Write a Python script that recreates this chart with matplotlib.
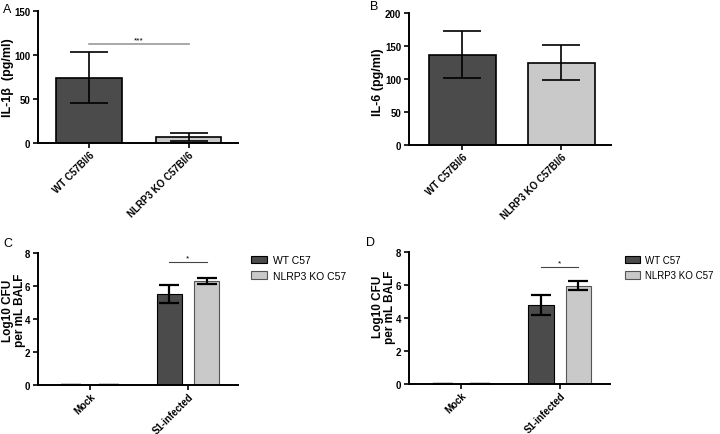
import numpy as np
import matplotlib.pyplot as plt
from matplotlib.patches import Patch

plt.rcParams['font.family'] = ['Liberation Sans', 'DejaVu Sans']

# panel A / B data
groups_ab = ['WT C57Bl/6', 'NLRP3 KO C57Bl/6']
il1b = [74, 7]
il1b_err = [29, 4.5]
il6 = [137, 125]
il6_err = [36, 27]

# panel C / D data
groups_cd = ['Mock', 'S1-infected']
series_cd = ['WT C57', 'NLRP3 KO C57']
c_wt = [0, 5.5]
c_wt_err = [0, 0.55]
c_ko = [0, 6.3]
c_ko_err = [0, 0.17]
d_wt = [0, 4.8]
d_wt_err = [0, 0.6]
d_ko = [0, 5.95]
d_ko_err = [0, 0.27]

dark = '#4b4b4b'
light = '#c9c9c9'

fig = plt.figure(figsize=(7.2, 4.35), dpi=100)
W, H = 720, 435


def px_axes(x0, ytop, x1, ybot):
    return fig.add_axes([x0 / W, (H - ybot) / H, (x1 - x0) / W, (ybot - ytop) / H])


def style(ax):
    for s in ['top', 'right']:
        ax.spines[s].set_visible(False)
    for s in ['left', 'bottom']:
        ax.spines[s].set_linewidth(1.4)
    ax.tick_params(width=1.2, length=3.5, labelsize=7, pad=2)
    ax.tick_params(axis='x', pad=1)
    for lab in ax.get_yticklabels() + ax.get_xticklabels():
        lab.set_fontweight('bold')


def label_x(ax, names):
    ax.set_xticks(range(len(names)))
    ax.set_xticklabels(names, rotation=45, ha='right', rotation_mode='anchor',
                       fontsize=6.6, fontweight='bold')


# A
axA = px_axes(38, 12, 238, 144)
x = np.arange(2)
axA.bar(x, il1b, 0.66, color=[dark, light], edgecolor='black', linewidth=1.2,
        yerr=il1b_err, error_kw=dict(capsize=14, elinewidth=1.2, capthick=1.2))
axA.set_xlim(-0.513, 1.497)
axA.set_ylim(0, 150)
axA.set_yticks([0, 50, 100, 150])
axA.set_ylabel('IL-1β  (pg/ml)', fontsize=9, fontweight='bold')
axA.yaxis.set_label_coords(-0.12, 0.5)
axA.plot([0, 1], [112, 112], color='#999999', lw=1.2)
axA.text(0.5, 113, '***', ha='center', va='bottom', fontsize=6)
label_x(axA, groups_ab)
style(axA)
fig.text(3 / W, 1 - 10 / H, 'A', fontsize=9, va='center')

# B
axB = px_axes(409, 14, 611, 146)
axB.bar(x, il6, 0.68, color=[dark, light], edgecolor='black', linewidth=1.2,
        yerr=il6_err, error_kw=dict(capsize=14, elinewidth=1.2, capthick=1.2))
axB.set_xlim(-0.54, 1.5)
axB.set_ylim(0, 200)
axB.set_yticks([0, 50, 100, 150, 200])
axB.set_ylabel('IL-6 (pg/ml)', fontsize=9, fontweight='bold')
axB.yaxis.set_label_coords(-0.125, 0.48)
label_x(axB, groups_ab)
style(axB)
fig.text(370 / W, 1 - 7 / H, 'B', fontsize=9, va='center')


def panel_cd(ax, wt, wt_err, ko, ko_err, sig_y, letter, lx, ly, labx, laby,
             legx, legy, legsize):
    off = 0.19
    bw = 0.255
    xx = np.arange(2)
    ekw = dict(capsize=7, elinewidth=1.6, capthick=1.6)
    ax.bar(xx - off, wt, bw, color=dark, edgecolor='black', linewidth=0.8,
           yerr=wt_err, error_kw=ekw, label=series_cd[0])
    ax.bar(xx + off, ko, bw, color=light, edgecolor='#555555', linewidth=0.8,
           yerr=ko_err, error_kw=ekw, label=series_cd[1])
    ax.set_xlim(-0.53, 1.51)
    ax.set_ylim(0, 8)
    ax.set_yticks([0, 2, 4, 6, 8])
    ax.set_ylabel('Log10 CFU\nper mL BALF', fontsize=8.5, fontweight='bold',
                  linespacing=0.95)
    ax.yaxis.set_label_coords(labx, laby)
    ax.plot([1 - off, 1 + off], [sig_y, sig_y], color='#444444', lw=0.8)
    ax.text(1, sig_y + 0.05, '*', ha='center', va='bottom', fontsize=6)
    label_x(ax, groups_cd)
    style(ax)
    handles = [Patch(facecolor=dark, edgecolor='black', linewidth=0.8),
               Patch(facecolor=light, edgecolor='#555555', linewidth=0.8)]
    fig.legend(handles, series_cd, loc='upper left',
               bbox_to_anchor=(legx / W, 1 - legy / H),
               frameon=False, fontsize=legsize, handlelength=1.5, handleheight=0.75,
               handletextpad=0.6, labelspacing=0.55, borderpad=0,
               borderaxespad=0)
    fig.text(lx / W, 1 - ly / H, letter, fontsize=9, va='center')


axC = px_axes(38, 254, 238, 386)
panel_cd(axC, c_wt, c_wt_err, c_ko, c_ko_err, 7.44, 'C', 3, 244,
         -0.06, 0.57, 251, 256, 7.5)

axD = px_axes(409, 253, 610, 385)
panel_cd(axD, d_wt, d_wt_err, d_ko, d_ko_err, 7.1, 'D', 366, 243,
         -0.065, 0.59, 625, 256, 7)

fig.savefig('out.png', dpi=100, facecolor='white')
